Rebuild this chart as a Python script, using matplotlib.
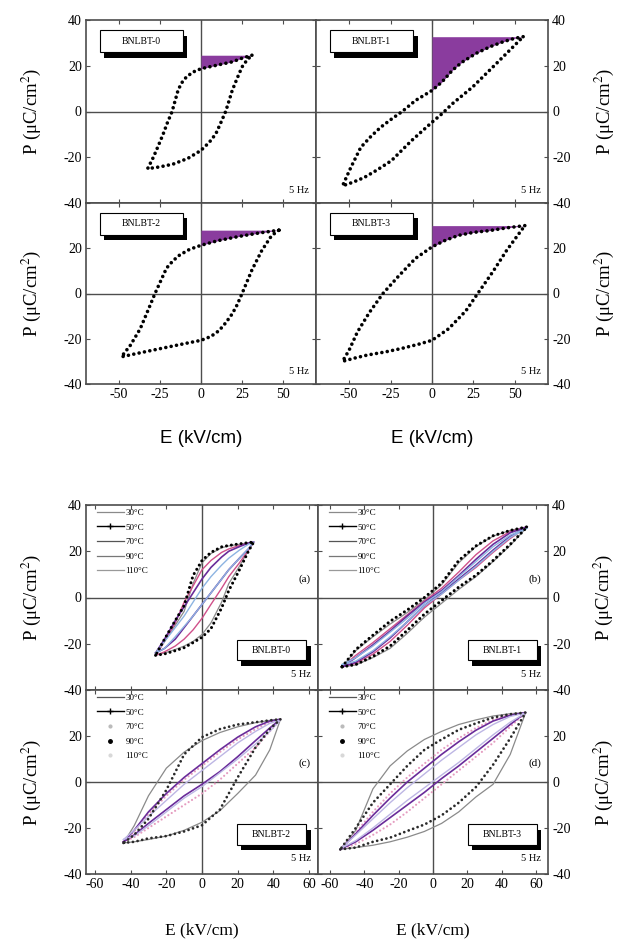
import matplotlib
matplotlib.use('Agg')
import matplotlib.pyplot as plt
from matplotlib.patches import Rectangle
from matplotlib.lines import Line2D

plt.rcParams['font.family'] = ['Liberation Serif', 'DejaVu Serif']
plt.rcParams['mathtext.fontset'] = 'stix'
plt.rcParams['axes.unicode_minus'] = False

# ---------------- data: top block (room temperature loops, 5 Hz) ----------------
names_top = ['BNLBT-0', 'BNLBT-1', 'BNLBT-2', 'BNLBT-3']

E0_up = [31, 25, 19, 10, 0, -5, -9, -12, -14, -17.6, -20.5, -23, -26, -29, -32.5]
P0_up = [24.6, 23.3, 21.7, 20.3, 18.7, 17.2, 15, 12.3, 9.2, 0, -5, -9.8, -15, -20, -25]
E0_dn = [-32.5, -25, -17, -8, 0, 5, 9, 12, 15, 17, 19, 22, 25, 28, 31]
P0_dn = [-25, -24.2, -23, -20.5, -17, -13.5, -9.8, -5, 0, 4.5, 9.2, 14.5, 19.5, 22.5, 24.6]

E1_up = [55, 50, 43, 35, 26.6, 18, 12.3, 6, 0, -10, -18, -25, -31, -37, -43, -49, -54]
P1_up = [32.7, 32, 30.5, 28.3, 25.4, 21.5, 18, 12.9, 9.2, 4.8, 0, -3.6, -6.9, -11, -15.7, -24.5, -32.5]
E1_dn = [-54, -48, -41, -33, -24.5, -12.3, 0, 6, 12.3, 24.5, 36.8, 49, 55]
P1_dn = [-32.5, -31, -28.9, -25.5, -21.5, -12.7, -4.7, -1, 3.4, 10.7, 19.5, 28.3, 32.7]

E2_up = [47.5, 35, 23, 10, 0, -7, -13, -17, -21, -26, -28, -32, -37, -43, -48.5]
P2_up = [28, 26.7, 25.2, 23.3, 21.3, 19.5, 17, 14.5, 11.2, 3.2, 0, -7, -15.6, -22.9, -28]
E2_dn = [-48.5, -39, -29, -19, -9, 0, 6, 11, 15, 19, 22, 25, 31, 37, 43, 47.5]
P2_dn = [-28, -26.5, -25, -23.5, -22, -20.7, -19, -16.4, -13, -9, -5, 0, 10.4, 19, 25.6, 28]

E3_up = [56, 45, 34.8, 25, 16, 8, 0, -10, -20.4, -29.6, -37.8, -45, -50, -54]
P3_up = [30, 29, 27.8, 27, 25.7, 23.5, 20.6, 15.5, 7.5, 0, -8.4, -17, -25, -30]
E3_dn = [-54, -47, -39, -28, -18.4, -8, 0, 10, 20.4, 27.6, 36.8, 45, 53, 56]
P3_dn = [-30, -28.6, -27.2, -25.8, -24.3, -22.4, -20.7, -15.6, -7.7, 0, 9.7, 19, 27, 30]

# ---------------- data: bottom block (temperature dependence, 5 Hz) ----------------
temps = ['30°C', '50°C', '70°C', '90°C', '110°C']
names_bot = ['BNLBT-0', 'BNLBT-1', 'BNLBT-2', 'BNLBT-3']
panel_tags = ['(a)', '(b)', '(c)', '(d)']

Ea = [-26, -21, -15, -10, -5, 0, 5, 11, 15, 21, 26, 29]
Pa_up = [
    [-25, -19, -12, -6, 6, 15, 19, 21.5, 22.3, 23, 23.7, 24],
    [-25, -18, -10, -3.5, 9.5, 16, 19.5, 21.9, 22.5, 23.2, 23.7, 24],
    [-25, -19, -11, -2, 5, 12, 16, 19.5, 21, 22.5, 23.5, 24],
    [-24, -18, -10, -4, 2, 8, 13, 17.5, 20, 22, 23.5, 24],
    [-24, -19, -13, -8, -2, 4, 9, 14, 17, 20.5, 23, 24],
]
Pa_lo = [
    [-25, -24, -22.5, -21, -19, -16, -11, -2, 6, 13.5, 20.5, 24],
    [-25, -24.4, -23, -21.7, -19.5, -17.2, -13.5, -4.5, 3, 12, 20, 24],
    [-25, -23.5, -21, -18, -14, -9, -3, 4, 9, 15, 20.5, 24],
    [-24, -22, -18, -13, -8, -3, 2, 8, 12, 17, 21, 24],
    [-24, -22, -17, -12.5, -8, -3, 2, 8, 12, 17, 21, 24],
]

Eb = [-53, -45, -35, -25, -15, -5, 5, 15, 25, 35, 45, 55]
Pb_up = [
    [-30, -23, -17, -11.5, -6.5, -1, 5.5, 15, 22, 26.5, 29, 30.6],
    [-30, -22.5, -16.3, -10.3, -5.4, 0, 6.2, 16, 22.3, 26.7, 29, 30.6],
    [-30, -25, -19.5, -13.5, -7.5, -1.5, 4, 11, 18.5, 24.5, 28.5, 30.6],
    [-30, -26, -20.5, -14.5, -8, -2, 3, 9.5, 16.5, 23, 28, 30.6],
    [-29, -26, -21, -15, -9, -2.5, 2.5, 9, 15.5, 22, 27, 30],
]
Pb_lo = [
    [-30, -29.2, -26, -22, -15.5, -8.5, -2.5, 3.5, 9, 15.5, 22.5, 30.6],
    [-30, -29, -25.5, -21, -14.2, -7.2, -1.3, 4.5, 9.6, 16, 23, 30.6],
    [-30, -28.5, -24.5, -19, -12, -4.5, 1.5, 7.5, 13, 19.5, 25.5, 30.6],
    [-30, -28, -23.5, -17.5, -10.5, -3.5, 2, 8, 14, 20.5, 26.5, 30.6],
    [-29, -27.5, -23, -17, -10.5, -3.5, 1.5, 7.5, 13.5, 20, 26, 30],
]

Ec = [-44, -38, -30, -20, -10, 0, 10, 20, 30, 38, 44]
Pc_up = [
    [-26.5, -19, -6, 6, 13, 18, 21.5, 24, 25.8, 26.8, 27.3],
    [-26.5, -23, -16, -3.5, 12, 19.5, 23, 25, 26, 26.8, 27.3],
    [-26, -21.5, -14, -6, 1, 7, 13, 18.5, 23, 26, 27.3],
    [-26, -21, -13, -5, 2, 8, 14, 19.5, 24, 26.5, 27.3],
    [-25, -21, -15, -8, -1, 5, 11, 17, 22, 25.5, 27],
]
Pc_lo = [
    [-26.5, -26, -25, -23.5, -21, -17.5, -12.5, -5, 3, 14, 27.3],
    [-26.5, -26, -24.5, -23.5, -21.5, -18.8, -12, 2, 15, 23, 27.3],
    [-26, -24, -20, -15, -10, -5, 1, 8, 15, 22, 27.3],
    [-26, -23, -18, -12, -6, -1, 4.5, 11, 18, 23.5, 27.3],
    [-25, -23.5, -19, -13, -7, -2, 4, 10, 16.5, 22, 27],
]

Ed = [-54, -45, -35, -25, -15, -5, 5, 15, 25, 35, 45, 54]
Pd_up = [
    [-29.3, -21, -3, 7, 13.5, 18.5, 22, 25, 27, 28.7, 29.7, 30.2],
    [-29.3, -20, -9, -1, 7, 14, 18.5, 22.7, 25.5, 28, 29.5, 30.2],
    [-29.3, -22, -13, -5, 2, 8, 14, 19, 23.5, 27, 29.3, 30.2],
    [-29.3, -22.5, -14.5, -7, 0, 6, 12, 17.5, 22.5, 26.5, 29, 30.2],
    [-29, -23, -16, -9, -2.5, 3.5, 9.5, 15, 20.5, 25, 28.5, 30],
]
Pd_lo = [
    [-29.3, -28.5, -27.5, -26, -24, -21.5, -18, -13, -6.5, -1, 12, 30.2],
    [-29.3, -28.5, -26, -24.2, -21.3, -18.5, -14.5, -9, -2.2, 7.5, 19, 30.2],
    [-29.3, -27, -23, -18.5, -13, -7, -1, 5, 11, 17, 24, 30.2],
    [-29.3, -26, -21, -15.5, -10, -4.5, 1.5, 7, 13, 19, 25, 30.2],
    [-29, -25.5, -20, -14, -8, -2.5, 3, 8.5, 14.5, 20.5, 26, 30],
]

# ---------------- layout ----------------
FW, FH = 628, 943
fig = plt.figure(figsize=(FW / 100, FH / 100), dpi=100)
AX = '#4d4d4d'
PURPLE = '#8a3c9e'

def make_ax(x0, x1, y0, y1):
    return fig.add_axes([x0 / FW, 1 - y1 / FH, (x1 - x0) / FW, (y1 - y0) / FH])

def style(ax, xlim, xticks, show_x, right, hide_top):
    ax.set_xlim(*xlim)
    ax.set_ylim(-40, 40)
    ax.axhline(0, color=AX, lw=1.0, zorder=1)
    ax.axvline(0, color=AX, lw=1.0, zorder=1)
    for s in ax.spines.values():
        s.set_color(AX)
        s.set_linewidth(1.2)
    ax.set_xticks(xticks)
    ax.set_yticks([-40, -20, 0, 20, 40])
    ax.set_yticklabels(['-40', '-20', '0', '20', '' if hide_top else '40'])
    ax.tick_params(direction='in', length=3, width=0.8, color=AX, labelsize=10,
                   top=True, bottom=True, left=True, right=True,
                   labelbottom=show_x, labelleft=not right, labelright=right, pad=3)
    ax.set_ylabel('P (μC/cm$^{2}$)', fontsize=13.5, rotation=90)
    if right:
        ax.yaxis.set_label_position('right')
        ax.yaxis.set_label_coords(1.19, 0.5)
    else:
        ax.yaxis.set_label_coords(-0.185, 0.5)

def label_box(ax, xc, yc, w, h, text):
    ax.add_patch(Rectangle((xc - w / 2 + 0.018, yc - h / 2 - 0.03), w, h,
                           transform=ax.transAxes, facecolor='black', edgecolor='none', zorder=5))
    ax.add_patch(Rectangle((xc - w / 2, yc - h / 2), w, h, transform=ax.transAxes,
                           facecolor='white', edgecolor='black', lw=0.8, zorder=6))
    ax.text(xc, yc, text, transform=ax.transAxes, ha='center', va='center',
            fontsize=7, zorder=7)

dot_kw = dict(color='black', lw=2.6, linestyle=(0, (0.01, 1.5)), dash_capstyle='round')

# ---------------- top block ----------------
top_data = [(E0_up, P0_up, E0_dn, P0_dn), (E1_up, P1_up, E1_dn, P1_dn),
            (E2_up, P2_up, E2_dn, P2_dn), (E3_up, P3_up, E3_dn, P3_dn)]
top_rects = [(86, 316, 20, 203), (316, 548, 20, 203), (86, 316, 203, 384), (316, 548, 203, 384)]

for i, (rect, (Eu, Pu, Ed_, Pd_)) in enumerate(zip(top_rects, top_data)):
    ax = make_ax(*rect)
    right = i % 2 == 1
    bottom_row = i >= 2
    style(ax, (-70, 70), [-50, -25, 0, 25, 50], bottom_row, right, bottom_row)
    pmax = max(Pu)
    seg = sorted([(e, p) for e, p in zip(Eu, Pu) if e >= 0])
    ax.fill_between([s[0] for s in seg], [s[1] for s in seg], pmax,
                    color=PURPLE, lw=0, zorder=2)
    ax.plot(Eu + Ed_, Pu + Pd_, zorder=3, **dot_kw)
    label_box(ax, 0.24, 0.885, 0.36, 0.12, names_top[i])
    ax.text(0.97, 0.07, '5 Hz', transform=ax.transAxes, ha='right', va='center', fontsize=7.5)
    if bottom_row:
        ax.set_xlabel('E (kV/cm)', fontsize=13.5, family=['Liberation Sans', 'DejaVu Sans'])
        ax.xaxis.set_label_coords(0.5, -0.255)

# ---------------- bottom block ----------------
bot_data = [(Ea, Pa_up, Pa_lo), (Eb, Pb_up, Pb_lo), (Ec, Pc_up, Pc_lo), (Ed, Pd_up, Pd_lo)]
bot_rects = [(86, 318, 505, 690), (318, 548, 505, 690), (86, 318, 690, 874), (318, 548, 690, 874)]

styles_ab = [dict(color='#8a8a8a', lw=0.9),
             dict(color='black', lw=2.2, linestyle=(0, (0.01, 1.6)), dash_capstyle='round'),
             dict(color='#d0508a', lw=1.0),
             dict(color='#6a2c9a', lw=1.2),
             dict(color='#8db4e2', lw=1.0)]
styles_cd = [dict(color='#8a8a8a', lw=0.9),
             dict(color='#2a2a2a', lw=2.0, linestyle=(0, (0.01, 1.7)), dash_capstyle='round'),
             dict(color='#e59cc0', lw=1.6, linestyle=(0, (0.01, 1.8)), dash_capstyle='round'),
             dict(color='#6a2c9a', lw=1.2),
             dict(color='#bdb6e4', lw=1.0)]
handles_ab = [Line2D([], [], color='#8a8a8a', lw=0.9),
              Line2D([], [], color='black', lw=1.0, marker='+', markersize=5),
              Line2D([], [], color='#555555', lw=0.9),
              Line2D([], [], color='#777777', lw=0.9),
              Line2D([], [], color='#999999', lw=0.9)]
handles_cd = [Line2D([], [], color='#555555', lw=0.9),
              Line2D([], [], color='black', lw=1.0, marker='+', markersize=5),
              Line2D([], [], color='#bbbbbb', lw=0, marker='.', markersize=4),
              Line2D([], [], color='black', lw=0, marker='.', markersize=5),
              Line2D([], [], color='#d8d8d8', lw=0, marker='.', markersize=4)]

for i, (rect, (E, Pup, Plo)) in enumerate(zip(bot_rects, bot_data)):
    ax = make_ax(*rect)
    right = i % 2 == 1
    bottom_row = i >= 2
    xl = (-65, 65) if not right else (-67, 67)
    style(ax, xl, [-60, -40, -20, 0, 20, 40, 60], bottom_row, right, bottom_row)
    stl = styles_ab if i < 2 else styles_cd
    for k in range(len(temps)):
        ax.plot(E + E[::-1], Plo[k] + Pup[k][::-1], zorder=3 if k == 1 else 2, **stl[k])
    hd = handles_ab if i < 2 else handles_cd
    ax.legend(hd, temps, loc='upper left', bbox_to_anchor=(0.03, 1.0), fontsize=6.5,
              frameon=False, handlelength=3.0, labelspacing=0.7, handletextpad=0.2,
              borderaxespad=0.2, borderpad=0.2)
    label_box(ax, 0.80, 0.215, 0.30, 0.11, names_bot[i])
    ax.text(0.97, 0.085, '5 Hz', transform=ax.transAxes, ha='right', va='center', fontsize=7.5)
    ax.text(0.97, 0.6, panel_tags[i], transform=ax.transAxes, ha='right', va='center', fontsize=8)
    if bottom_row:
        ax.set_xlabel('E (kV/cm)', fontsize=12.5)
        ax.xaxis.set_label_coords(0.5, -0.265)

fig.savefig('out.png', dpi=100)
